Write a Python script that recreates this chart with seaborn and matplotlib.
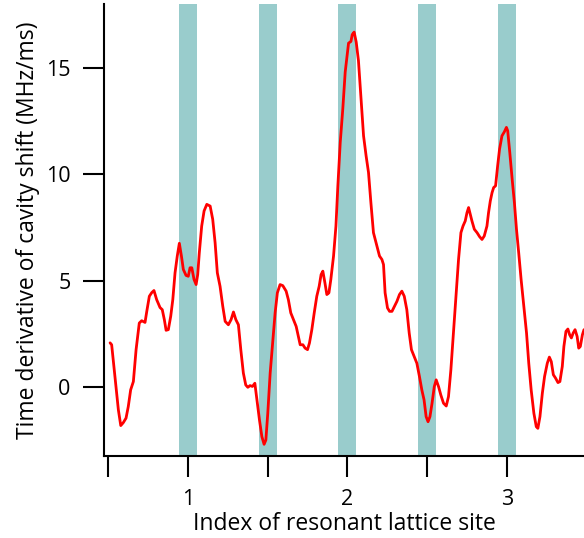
import matplotlib
matplotlib.use("Agg")
import matplotlib.pyplot as plt
import seaborn as sns
import pandas as pd

# index of resonant lattice site (x) and time derivative of cavity shift in MHz/ms (y)
site = [0.513, 0.523, 0.544, 0.565, 0.580, 0.596, 0.613, 0.627, 0.642, 0.659,
        0.676, 0.696, 0.711, 0.732, 0.743, 0.759, 0.774, 0.788, 0.805, 0.826,
        0.840, 0.853, 0.864, 0.878, 0.893, 0.906, 0.920, 0.934, 0.947, 0.960,
        0.972, 0.989, 1.003, 1.014, 1.025, 1.039, 1.052, 1.062, 1.072, 1.087,
        1.102, 1.119, 1.140, 1.156, 1.171, 1.185, 1.202, 1.219, 1.234, 1.254,
        1.271, 1.286, 1.301, 1.317, 1.332, 1.348, 1.363, 1.376, 1.390, 1.405,
        1.420, 1.432, 1.449, 1.464, 1.478, 1.489, 1.501, 1.516, 1.533, 1.547,
        1.561, 1.578, 1.595, 1.616, 1.630, 1.645, 1.662, 1.679, 1.693, 1.704,
        1.721, 1.735, 1.750, 1.762, 1.777, 1.792, 1.808, 1.823, 1.835, 1.846,
        1.859, 1.871, 1.884, 1.896, 1.913, 1.928, 1.940, 1.955, 1.971, 1.986,
        2.007, 2.022, 2.030, 2.042, 2.055, 2.069, 2.084, 2.101, 2.117, 2.132,
        2.147, 2.163, 2.174, 2.188, 2.201, 2.216, 2.226, 2.236, 2.251, 2.264,
        2.279, 2.293, 2.310, 2.326, 2.341, 2.356, 2.372, 2.387, 2.401, 2.418,
        2.435, 2.451, 2.466, 2.480, 2.493, 2.505, 2.517, 2.530, 2.544, 2.556,
        2.571, 2.585, 2.602, 2.619, 2.633, 2.648, 2.664, 2.682, 2.696, 2.711,
        2.724, 2.738, 2.749, 2.759, 2.770, 2.780, 2.795, 2.812, 2.828, 2.843,
        2.857, 2.874, 2.884, 2.895, 2.906, 2.916, 2.928, 2.941, 2.953, 2.968,
        2.983, 2.996, 3.004, 3.017, 3.032, 3.046, 3.059, 3.073, 3.088, 3.105,
        3.122, 3.136, 3.151, 3.168, 3.183, 3.193, 3.206, 3.221, 3.235, 3.252,
        3.265, 3.277, 3.290, 3.304, 3.319, 3.331, 3.346, 3.356, 3.369, 3.381,
        3.392, 3.403, 3.414, 3.426, 3.439, 3.449, 3.459, 3.472, 3.482]
shift_rate = [2.07, 1.98, 0.47, -1.08, -1.82, -1.68, -1.47, -0.93, -0.14, 0.25,
              1.75, 3.00, 3.11, 3.03, 3.55, 4.26, 4.43, 4.53, 4.10, 3.73,
              3.63, 3.16, 2.66, 2.69, 3.32, 4.10, 5.36, 6.15, 6.75, 6.15,
              5.52, 5.24, 5.20, 5.60, 5.60, 5.05, 4.81, 5.28, 6.30, 7.56,
              8.27, 8.58, 8.50, 7.88, 6.78, 5.36, 4.73, 3.79, 3.08, 2.92,
              3.16, 3.52, 3.16, 2.92, 1.75, 0.65, 0.09, -0.02, 0.06, 0.02,
              0.17, -0.53, -1.56, -2.34, -2.70, -2.50, -1.24, 0.65, 2.22, 3.48,
              4.42, 4.81, 4.76, 4.50, 4.10, 3.48, 3.16, 2.84, 2.37, 1.98,
              1.98, 1.82, 1.75, 2.06, 2.69, 3.48, 4.26, 4.73, 5.28, 5.44,
              4.89, 4.34, 4.42, 5.05, 6.15, 7.56, 9.45, 11.50, 13.07, 14.80,
              16.16, 16.24, 16.56, 16.68, 16.21, 15.34, 13.69, 11.80, 10.86, 10.08,
              8.66, 7.25, 6.93, 6.54, 6.15, 5.99, 5.75, 4.42, 3.71, 3.55,
              3.55, 3.76, 4.02, 4.34, 4.50, 4.26, 3.63, 2.53, 1.75, 1.43,
              1.11, 0.49, -0.14, -0.61, -1.40, -1.64, -1.40, -0.77, 0.01, 0.33,
              0.01, -0.38, -0.77, -0.90, -0.46, 0.80, 2.53, 4.42, 5.99, 7.25,
              7.56, 7.80, 8.19, 8.43, 8.11, 7.80, 7.41, 7.25, 7.06, 6.93,
              7.09, 7.56, 8.19, 8.74, 9.13, 9.37, 9.45, 10.39, 11.18, 11.80,
              11.99, 12.20, 12.04, 11.02, 9.76, 8.66, 7.41, 6.30, 5.05, 3.79,
              2.53, 1.11, -0.14, -1.24, -1.87, -1.95, -1.40, -0.30, 0.49, 1.11,
              1.40, 1.19, 0.57, 0.41, 0.20, 0.25, 0.96, 1.90, 2.61, 2.72,
              2.45, 2.30, 2.53, 2.69, 2.37, 1.82, 1.90, 2.45, 2.69]

# highlighted lattice sites (shaded bands)
band_sites = [1.0, 1.5, 2.0, 2.5, 3.0]
band_width = 0.113

df = pd.DataFrame({"site": site, "rate": shift_rate})

sns.set_style("ticks")
plt.rcParams["font.family"] = ["Open Sans", "DejaVu Sans"]
plt.rcParams.update({"text.color": "black", "axes.labelcolor": "black",
                     "xtick.color": "black", "ytick.color": "black"})

fig = plt.figure(figsize=(5.84, 5.38), dpi=100)
ax = fig.add_axes([104 / 584, 1 - 456 / 538, 480 / 584, 452 / 538])

for c in band_sites:
    ax.axvspan(c - band_width / 2, c + band_width / 2, color="#99cccc", lw=0, zorder=0)

sns.lineplot(data=df, x="site", y="rate", ax=ax, color="red", lw=2.0,
             estimator=None, sort=False, zorder=3)

ax.set_xlim(0.475, 3.482)
ax.set_ylim(-3.25, 18.0)
ax.set_xticks([1, 2, 3])
ax.set_xticks([0.5, 1.5, 2.5], minor=True)
ax.set_yticks([0, 5, 10, 15])
ax.tick_params(which="both", direction="out", length=15, width=1.5,
               labelsize=15.5, pad=9, color="black", labelcolor="black")
sns.despine(ax=ax)
for s in ["left", "bottom"]:
    ax.spines[s].set_linewidth(1.5)
    ax.spines[s].set_color("black")

ax.set_xlabel("Index of resonant lattice site", fontsize=16.5, labelpad=1)
ax.set_ylabel("Time derivative of cavity shift (MHz/ms)", fontsize=16.5, labelpad=4)

fig.savefig("out.png", dpi=100)
